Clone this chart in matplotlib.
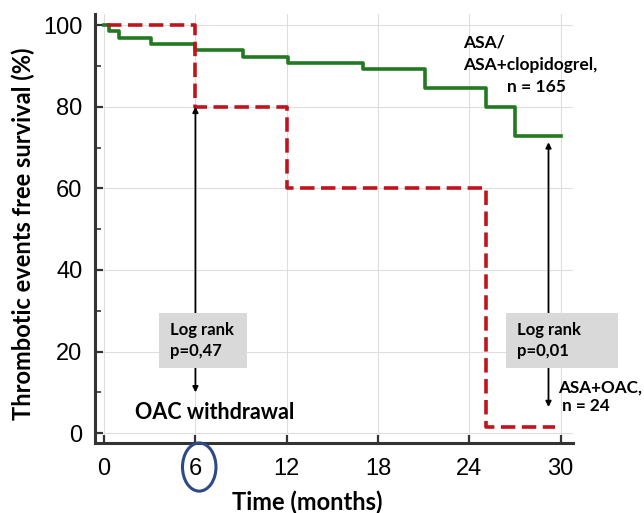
import matplotlib.pyplot as plt
from matplotlib.patches import Rectangle, Ellipse

# Kaplan-Meier steps
asa_time = [0, 0.3, 1.0, 3.1, 6.0, 9.1, 12.1, 17.0, 21.1, 25.1, 27.0, 30.0]
asa_surv = [100, 98.5, 96.8, 95.3, 93.9, 92.2, 90.7, 89.2, 84.5, 80.0, 72.8, 72.8]

oac_time = [0.2, 6.0, 12.0, 25.1, 29.6]
oac_surv = [100, 80, 60, 1.5, 1.5]

x_ticks = [0, 6, 12, 18, 24, 30]
y_ticks = [0, 20, 40, 60, 80, 100]

BOLD = 'Lato'

fig = plt.figure(figsize=(6.44, 5.13), dpi=100)
ax = fig.add_axes([0.1475, 0.1365, 0.742, 0.836])

ax.step(asa_time, asa_surv, where='post', color='#217a21', lw=2.6, zorder=3)
ax.step(oac_time, oac_surv, where='post', color='#c0141c', lw=2.6,
        dashes=(4, 1.8), zorder=3)

ax.set_xlim(-0.6, 30.8)
ax.set_ylim(-2.4, 102.7)
ax.set_xticks(x_ticks)
ax.set_yticks(y_ticks)
ax.set_yticks([10, 30, 50, 70, 90], minor=True)
ax.grid(True, which='major', color='#dedede', lw=0.8, zorder=0)

for s in ['top', 'right']:
    ax.spines[s].set_visible(False)
for s in ['left', 'bottom']:
    ax.spines[s].set_linewidth(2.2)
    ax.spines[s].set_color('#333333')

ax.tick_params(which='major', direction='in', length=6, width=1.6,
               color='#333333', labelsize=17, pad=9)
ax.tick_params(axis='x', pad=11)
ax.tick_params(which='minor', direction='in', length=4, width=1.2,
               color='#333333')
for lab in ax.get_xticklabels() + ax.get_yticklabels():
    lab.set_fontfamily('Liberation Sans')

ax.set_xlabel('Time (months)', fontsize=17, fontweight='bold', family=BOLD)
ax.set_ylabel('Thrombotic events free survival (%)', fontsize=17,
              fontweight='bold', family=BOLD)
ax.xaxis.set_label_coords(0.444, -0.1375)
ax.yaxis.set_label_coords(-0.149, 0.487)
ax.xaxis.label.set_va('center')
ax.yaxis.label.set_va('center')

# arrows marking the log-rank comparisons
ax.annotate('', xy=(6, 80), xytext=(6, 10),
            arrowprops=dict(arrowstyle='<|-|>', color='black', lw=1.3,
                            mutation_scale=8, shrinkA=0, shrinkB=0), zorder=4)
ax.annotate('', xy=(29.2, 71.3), xytext=(29.2, 6.4),
            arrowprops=dict(arrowstyle='<|-|>', color='black', lw=1.3,
                            mutation_scale=8, shrinkA=0, shrinkB=0), zorder=4)

ax.add_patch(Rectangle((3.6, 16), 5.8, 13.5, facecolor='#d9d9d9',
                       edgecolor='none', zorder=5))
ax.add_patch(Rectangle((26.4, 16), 7.4, 13.5, facecolor='#d9d9d9',
                       edgecolor='none', zorder=5, clip_on=False))

ax.text(4.3, 22.8, 'Log rank\np=0,47', fontsize=12, fontweight='bold',
        family=BOLD, va='center', ha='left', linespacing=1.4, zorder=6)
ax.text(27.1, 22.8, 'Log rank\np=0,01', fontsize=12, fontweight='bold',
        family=BOLD, va='center', ha='left', linespacing=1.4, zorder=6)

ax.text(7.25, 5.1, 'OAC withdrawal', fontsize=15.5, fontweight='bold',
        family=BOLD, va='center', ha='center', zorder=6)

ax.text(29.8, 8.9, 'ASA+OAC,\n n = 24', fontsize=12.3, fontweight='bold',
        family=BOLD, va='center', ha='left', linespacing=1.25, zorder=6,
        clip_on=False)

ax.text(23.6, 95.8, 'ASA/', fontsize=12.5, fontweight='bold', family=BOLD,
        va='center', ha='left', zorder=6)
ax.text(23.6, 90.2, 'ASA+clopidogrel,', fontsize=12.5, fontweight='bold',
        family=BOLD, va='center', ha='left', zorder=6, clip_on=False)
ax.text(28.4, 84.8, 'n = 165', fontsize=12.5, fontweight='bold', family=BOLD,
        va='center', ha='center', zorder=6)

# highlight the 6-month tick label
ax.add_patch(Ellipse((6.25, -8.3), 2.2, 11.8, facecolor='none',
                     edgecolor='#2e4a85', lw=2.2, clip_on=False, zorder=6))

fig.savefig('out.png', dpi=100)
